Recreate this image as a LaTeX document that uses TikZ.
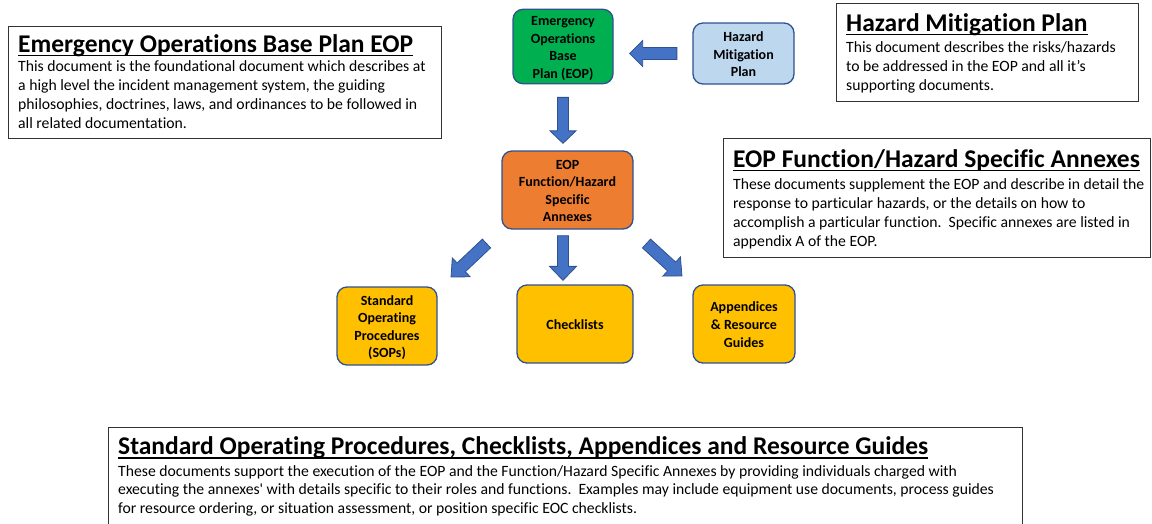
\documentclass[tikz,border=0pt]{standalone}
\usepackage{fontspec}
\setmainfont{Carlito}[Ligatures={TeX,NoCommon}]
\newfontfamily\rawfont{Carlito}[Ligatures=NoCommon]
\usetikzlibrary{calc}
\definecolor{eopgreen}{HTML}{00B050}
\definecolor{hmblue}{HTML}{BDD7EE}
\definecolor{annorange}{HTML}{ED7D31}
\definecolor{docgold}{HTML}{FFC000}
\definecolor{nodeedge}{HTML}{2F528F}
\definecolor{arrowfill}{HTML}{4472C4}
\definecolor{arrowedge}{HTML}{2F528F}
\newcommand\blockarrow[5]{%
  \path[barrow] let \p1=(#1), \p2=(#2), \n1={atan2(\y2-\y1,\x2-\x1)}, \n2={veclen(\x2-\x1,\y2-\y1)} in
   [shift={(\p1)}, rotate=\n1]
   (0,-#3) -- (\n2-#5,-#3) -- (\n2-#5,-#4) -- (\n2,0) -- (\n2-#5,#4) -- (\n2-#5,#3) -- (0,#3) -- cycle;
}
\newcommand\dtxt[1]{\raisebox{0pt}[\dimexpr\height+4pt\relax][\depth]{\begin{tabular}{@{}c@{}}#1\end{tabular}}}
\begin{document}
\begin{tikzpicture}[x=1pt,y=-1pt,
  doc/.style={draw=nodeedge, line width=1.3pt, rounded corners=10pt,
    font=\bfseries\fontsize{14}{17.6}\selectfont, inner sep=0pt},
  infobox/.style={draw=black!80, line width=0.9pt},
  boxtitle/.style={anchor=base west, inner sep=0pt, font=\bfseries\fontsize{25.5}{30}\selectfont},
  boxbody/.style={anchor=base west, inner sep=0pt, align=left, font=\fontsize{15.7}{19}\selectfont},
  ul/.style={line width=1.6pt},
  barrow/.style={fill=arrowfill, draw=arrowedge, line width=0.8pt, line join=miter}
]
\useasboundingbox (0,0) rectangle (1152,523);
\clip (0,0) rectangle (1152,523);

% info boxes
\draw[infobox] (8,26) rectangle (441,138);
\node[boxtitle] (t1) at (18,52) {Emergency Operations Base Plan EOP};
\draw[ul] ([yshift=-3.5pt]t1.base west) -- ([yshift=-3.5pt]t1.base east);
\node[boxbody] (b1) at (18,128) {This document is the foundational document which describes at\\
a high level the incident management system, the guiding\\
philosophies, doctrines, laws, and ordinances to be followed in\\
all related documentation.};

\draw[infobox] (836,3) rectangle (1138,101);
\node[boxtitle] (t2) at (846,31) {Hazard Mitigation Plan};
\draw[ul] ([yshift=-3.5pt]t2.base west) -- ([yshift=-3.5pt]t2.base east);
\node[boxbody] (b2) at (846,90) {This document describes the risks/hazards\\
to be addressed in the EOP and all it’s\\
supporting documents.};

\draw[infobox] (723,138) rectangle (1150,257);
\node[boxtitle] (t3) at (733,167) {EOP Function/Hazard Specific Annexes};
\draw[ul] ([yshift=-3.5pt]t3.base west) -- ([yshift=-3.5pt]t3.base east);
\node[boxbody] (b3) at (733,246) {These documents supplement the EOP and describe in detail the\\
response to particular hazards, or the details on how to\\
accomplish a particular function.\ \ Specific annexes are listed in\\
appendix A of the EOP.};

\draw[infobox] (108,530) -- (108,427) -- (1022,427) -- (1022,530);
\node[boxtitle] (t4) at (118,454.5) {Standard Operating Procedures, Checklists, Appendices and Resource Guides};
\draw[ul] ([yshift=-3.5pt]t4.base west) -- ([yshift=-3.5pt]t4.base east);
\node[boxbody, font=\fontsize{15.7}{18.5}\selectfont] (b4) at (118,513) {These documents support the execution of the EOP and the Function/Hazard Specific Annexes by providing individuals charged with\\
executing the annexes{\rawfont'} with details specific to their roles and functions.\ \ Examples may include equipment use documents, process guides\\
for resource ordering, or situation assessment, or position specific EOC checklists.};

% diagram nodes
\node[doc, fill=eopgreen, minimum width=100pt, minimum height=73pt] (eop) at (563,46.5)
  {\dtxt{Emergency\\Operations\\Base\\Plan (EOP)}};
\node[doc, fill=hmblue, minimum width=101pt, minimum height=61pt] (hmp) at (743.5,53.5)
  {\dtxt{Hazard\\Mitigation\\Plan}};
\node[doc, fill=annorange, minimum width=131pt, minimum height=78pt] (ann) at (567.5,190)
  {\dtxt{EOP\\Function/Hazard\\Specific\\Annexes}};
\node[doc, fill=docgold, minimum width=100pt, minimum height=78pt] (sop) at (387,326)
  {\dtxt{Standard\\Operating\\Procedures\\(SOPs)}};
\node[doc, fill=docgold, minimum width=116pt, minimum height=78pt] (chk) at (575,324)
  {\dtxt{Checklists}};
\node[doc, fill=docgold, minimum width=102pt, minimum height=78pt] (app) at (744,324)
  {\dtxt{Appendices\\\& Resource\\Guides}};

% arrow end points
\coordinate (a1s) at ([xshift=-15.5pt]hmp.west);
\coordinate (a1e) at ([xshift=16pt]eop.east |- a1s);
\coordinate (a2s) at ([yshift=-13pt]eop.south);
\coordinate (a2e) at ([yshift=7pt]a2s |- ann.north);
\coordinate (a3s) at ([yshift=-6pt]ann.south -| a2s);
\coordinate (a3e) at ([yshift=4pt]a3s |- chk.north);
\coordinate (a4s) at (486.5,243.5);
\coordinate (a4e) at (451,277);
\coordinate (a5s) at (646.5,243.5);
\coordinate (a5e) at (682,276);

\blockarrow{a1s}{a1e}{6}{13}{13}
\blockarrow{a2s}{a2e}{5.5}{13}{12.5}
\blockarrow{a3s}{a3e}{5.5}{13.5}{14}
\blockarrow{a4s}{a4e}{6}{13}{14}
\blockarrow{a5s}{a5e}{6}{13}{14}
\end{tikzpicture}
\end{document}
